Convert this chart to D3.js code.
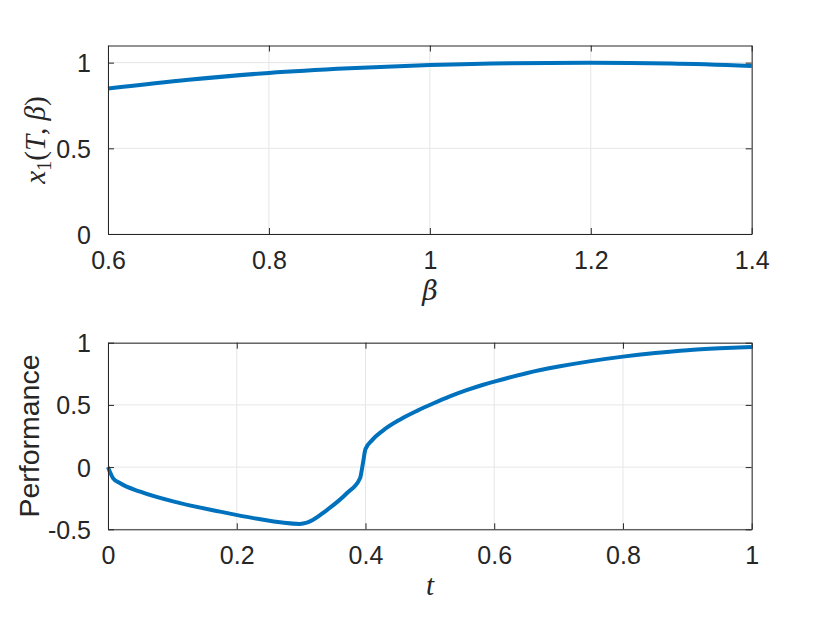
<!DOCTYPE html>
<html>
<head>
<meta charset="utf-8">
<script src="https://cdn.jsdelivr.net/npm/d3@7"></script>
<style>
  body { margin: 0; background: #fff; }
  svg { display: block; }
  .tick text { font-family: "Liberation Sans", Arial, sans-serif; }
</style>
</head>
<body>
<svg width="830" height="623"></svg>
<script>
// top panel: x1(T, beta) against beta
var betaVals = [0.6, 0.7, 0.8, 0.9, 1.0, 1.1, 1.2, 1.3, 1.4];
var x1Vals   = [0.849, 0.900, 0.940, 0.967, 0.986, 0.997, 1.000, 0.995, 0.981];
var betaTicks = [0.6, 0.8, 1.0, 1.2, 1.4];
var x1Ticks = [0, 0.5, 1];

// bottom panel: performance against t
var tVals    = [0, 0.008, 0.019, 0.05, 0.112, 0.174, 0.226, 0.298, 0.309, 0.34, 0.371, 0.3915, 0.396, 0.4,
                0.41, 0.428, 0.454, 0.48, 0.505, 0.531, 0.557, 0.583, 0.6, 0.65, 0.7, 0.75, 0.8, 0.85, 0.9, 0.95, 1.0];
var perfVals = [0, -0.09, -0.13, -0.198, -0.29, -0.358, -0.41, -0.457, -0.447, -0.345, -0.21, -0.09, 0.03, 0.145,
                0.215, 0.297, 0.383, 0.452, 0.511, 0.568, 0.618, 0.662, 0.687, 0.755, 0.808, 0.852, 0.888, 0.917, 0.94, 0.955, 0.966];
var tTicks = [0, 0.2, 0.4, 0.6, 0.8, 1];
var perfTicks = [-0.5, 0, 0.5, 1];

var svg = d3.select("svg");
var axisColor = "#262626",
    lineColor = "#0072BD",
    gridColor = "#e6e6e6";

// plain hyphen for negatives, like the original
function fmt(d) {
    return String(+d.toFixed(1));
}

function panel(opts) {
    var x = d3.scaleLinear().domain(opts.xDomain).range([108, 751.7]);
    var y = d3.scaleLinear().domain(opts.yDomain).range([opts.bottom, opts.top]);
    var g = svg.append("g");

    // grid
    g.append("g").selectAll("line").data(opts.xTicks).enter().append("line")
        .attr("x1", d => x(d)).attr("x2", d => x(d))
        .attr("y1", opts.top).attr("y2", opts.bottom)
        .attr("stroke", gridColor).attr("stroke-width", 1);
    g.append("g").selectAll("line").data(opts.yTicks).enter().append("line")
        .attr("x1", x.range()[0]).attr("x2", x.range()[1])
        .attr("y1", d => y(d)).attr("y2", d => y(d))
        .attr("stroke", gridColor).attr("stroke-width", 1);

    // data line
    var pts = opts.xs.map(function(d, i) { return [d, opts.ys[i]]; });
    g.append("path")
        .datum(pts)
        .attr("fill", "none")
        .attr("stroke", lineColor)
        .attr("stroke-width", 4)
        .attr("stroke-linejoin", "round")
        .attr("d", d3.line().x(d => x(d[0])).y(d => y(d[1])).curve(d3.curveMonotoneX));

    // axes, ticks inward on all four sides
    var bottomAx = g.append("g")
        .attr("transform", "translate(0," + opts.bottom + ")")
        .call(d3.axisBottom(x).tickValues(opts.xTicks).tickFormat(fmt).tickSizeInner(-6).tickSizeOuter(0).tickPadding(17));
    var topAx = g.append("g")
        .attr("transform", "translate(0," + opts.top + ")")
        .call(d3.axisTop(x).tickValues(opts.xTicks).tickFormat("").tickSizeInner(-6).tickSizeOuter(0));
    var leftAx = g.append("g")
        .attr("transform", "translate(108,0)")
        .call(d3.axisLeft(y).tickValues(opts.yTicks).tickFormat(fmt).tickSizeInner(-6).tickSizeOuter(0).tickPadding(17));
    var rightAx = g.append("g")
        .attr("transform", "translate(751.7,0)")
        .call(d3.axisRight(y).tickValues(opts.yTicks).tickFormat("").tickSizeInner(-6).tickSizeOuter(0));

    [bottomAx, topAx, leftAx, rightAx].forEach(function(a) {
        a.select(".domain").attr("stroke", axisColor).attr("stroke-width", 1);
        a.selectAll(".tick line").attr("stroke", axisColor).attr("stroke-width", 1);
        a.selectAll(".tick text").attr("fill", axisColor).attr("font-size", 25);
    });
    bottomAx.selectAll(".tick text").attr("dy", "0.71em");
    leftAx.selectAll(".tick text").attr("dy", "0.36em");
    return {x: x, y: y, g: g};
}

// top panel
var p1 = panel({
    xDomain: [0.6, 1.4], yDomain: [0, 1.1], top: 45.5, bottom: 234,
    xTicks: betaTicks, yTicks: x1Ticks, xs: betaVals, ys: x1Vals
});

// x-label beta
svg.append("text")
    .attr("x", 430).attr("y", 300)
    .attr("text-anchor", "middle")
    .attr("font-family", "DejaVu Serif, serif")
    .attr("font-style", "italic")
    .attr("font-size", 27)
    .attr("fill", axisColor)
    .text("β");

// y-label x1(T, beta)
var yl = svg.append("text")
    .attr("transform", "translate(45,140) rotate(-90)")
    .attr("text-anchor", "middle")
    .attr("font-family", "Liberation Serif, serif")
    .attr("font-size", 29)
    .attr("fill", axisColor);
yl.append("tspan").attr("font-style", "italic").text("x");
yl.append("tspan").attr("font-size", 20).attr("dy", 6).text("1");
yl.append("tspan").attr("dy", -6).text("(");
yl.append("tspan").attr("font-style", "italic").text("T");
yl.append("tspan").text(", ");
yl.append("tspan").attr("font-style", "italic").text("β");
yl.append("tspan").text(")");

// bottom panel
var p2 = panel({
    xDomain: [0, 1], yDomain: [-0.5, 1], top: 342.7, bottom: 529.3,
    xTicks: tTicks, yTicks: perfTicks, xs: tVals, ys: perfVals
});

svg.append("text")
    .attr("x", 430).attr("y", 595)
    .attr("text-anchor", "middle")
    .attr("font-family", "Liberation Serif, serif")
    .attr("font-style", "italic")
    .attr("font-size", 29)
    .attr("fill", axisColor)
    .text("t");

svg.append("text")
    .attr("transform", "translate(39,436) rotate(-90)")
    .attr("text-anchor", "middle")
    .attr("font-family", "Liberation Sans, Arial, sans-serif")
    .attr("font-size", 28.5)
    .attr("fill", axisColor)
    .text("Performance");
</script>
</body>
</html>
